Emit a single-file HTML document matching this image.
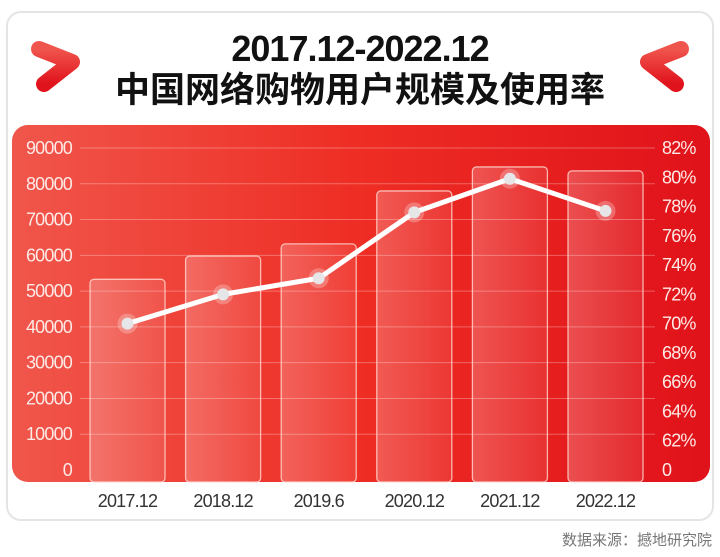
<!DOCTYPE html>
<html><head><meta charset="utf-8">
<style>
html,body{margin:0;padding:0;background:#fff;}
body{width:720px;height:552px;overflow:hidden;font-family:"Liberation Sans","Noto Sans CJK SC",sans-serif;}
</style></head>
<body>
<svg width="720" height="552" viewBox="0 0 720 552" xmlns="http://www.w3.org/2000/svg">
<defs>
<linearGradient id="panel" x1="0" y1="0" x2="1" y2="0">
<stop offset="0" stop-color="#f0564b"/><stop offset="0.5" stop-color="#ee2d24"/><stop offset="1" stop-color="#e0121a"/>
</linearGradient>
<linearGradient id="bar" x1="0" y1="0" x2="1" y2="0">
<stop offset="0" stop-color="#ffffff" stop-opacity="0.22"/><stop offset="1" stop-color="#ffffff" stop-opacity="0.08"/>
</linearGradient>
<linearGradient id="chev" x1="0" y1="0" x2="0" y2="1">
<stop offset="0" stop-color="#f0554d"/><stop offset="1" stop-color="#e0121c"/>
</linearGradient>
</defs>
<rect x="7" y="12" width="706" height="508" rx="14" fill="#fff" stroke="#e4e4e4" stroke-width="2"/>
<g fill="none" stroke="url(#chev)" stroke-width="16" stroke-linecap="round" stroke-linejoin="round">
<polyline points="39,49 72,62 44,84"/>
</g>
<g fill="none" stroke="url(#chev)" stroke-width="16" stroke-linecap="round" stroke-linejoin="round">
<polyline points="681,49 648,62 676,84"/>
</g>
<text x="360" y="61" text-anchor="middle" font-size="36" font-weight="bold" fill="#111" letter-spacing="-1">2017.12-2022.12</text>
<text x="360" y="102" text-anchor="middle" font-size="35" font-weight="bold" fill="#111" font-family="'Noto Sans CJK SC',sans-serif">中国网络购物用户规模及使用率</text>
<rect x="12" y="125" width="698" height="357" rx="16" fill="url(#panel)"/>
<g id="grid"></g><g id="bars"></g><g id="line"></g><g id="axes"></g>
<text x="712" y="545" text-anchor="end" font-size="15" fill="#777" font-family="'Noto Sans CJK SC',sans-serif">数据来源：撼地研究院</text>
</svg>
<script>
const categories=["2017.12","2018.12","2019.6","2020.12","2021.12","2022.12"];
const users=[53300,59800,63200,78000,84700,83600];
const rates=[70.0,72.0,73.1,77.6,79.9,77.7];
const leftTicks=[0,10000,20000,30000,40000,50000,60000,70000,80000,90000];
const rightTicks=["0","62%","64%","66%","68%","70%","72%","74%","76%","78%","80%","82%"];
const NS="http://www.w3.org/2000/svg";
const y0=470,yTop=148;
function yL(v){return y0-(v/90000)*(y0-yTop);}
const rStep=(y0-yTop)/11;
function yR(p){return y0-rStep-(p-62)/2*rStep;}
function xC(i){return 127.5+i*95.6;}
function mk(tag,attrs,parent){const e=document.createElementNS(NS,tag);for(const k in attrs)e.setAttribute(k,attrs[k]);parent.appendChild(e);return e;}
const grid=document.getElementById('grid'),bars=document.getElementById('bars'),line=document.getElementById('line'),axes=document.getElementById('axes');
leftTicks.forEach((t,i)=>{
 const y=yL(t);
 if(t>0){const g=mk('line',{x1:80,x2:655,y1:y,y2:y,stroke:'#ffffff','stroke-opacity':0.3,'stroke-width':1},grid);
 
 }
 const tx=mk('text',{x:72,y:y+6,'text-anchor':'end','font-size':18,fill:'#fde9e6','letter-spacing':-0.8},axes);tx.textContent=t;
 
 
});
rightTicks.forEach((t,i)=>{
 const y=y0-i*rStep;
 const tx=mk('text',{x:662,y:y+6,'font-size':18,fill:'#fde9e6','letter-spacing':-0.8},axes);tx.textContent=t;
 
 
});
categories.forEach((c,i)=>{
 const x=xC(i),yt=yL(users[i]);
 const b=mk('rect',{x:x-37.5,y:yt,width:75,height:482-yt,rx:4,fill:'url(#bar)',stroke:'#ffd9d2','stroke-opacity':0.8,'stroke-width':1.3},bars);
 
 
 const tx=mk('text',{x:x,y:507,'text-anchor':'middle','font-size':18,fill:'#333','letter-spacing':-0.8},axes);tx.textContent=c;
 
 
});
const pts=rates.map((r,i)=>xC(i)+','+yR(r)).join(' ');
const pl=mk('polyline',{points:pts,fill:'none',stroke:'#fff','stroke-width':5,'stroke-linejoin':'round'},line);


rates.forEach((r,i)=>{
 mk('circle',{cx:xC(i),cy:yR(r),r:10,fill:'#fff','fill-opacity':0.25},line);
 const c=mk('circle',{cx:xC(i),cy:yR(r),r:6,fill:'#e6e6e8'},line);
 
 
});
</script>
</body></html>
